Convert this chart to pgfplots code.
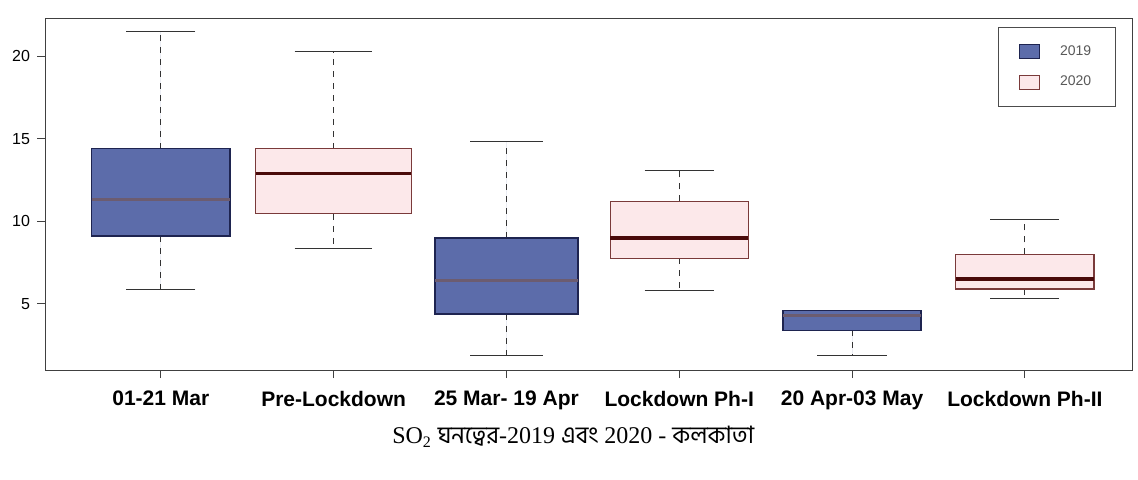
\documentclass[border=0pt]{standalone}
\usepackage{fontspec}
\setmainfont{Liberation Serif}
\setsansfont{Liberation Sans}
\newfontfamily\bn[Script=Bengali]{Hind Siliguri}
\usepackage{pgfplots}
\pgfplotsset{compat=1.18}
\usepgfplotslibrary{statistics}
\definecolor{bluefill}{RGB}{92,108,170}
\definecolor{bluedraw}{RGB}{30,36,80}
\definecolor{bluemed}{RGB}{108,92,112}
\definecolor{pinkfill}{RGB}{252,232,234}
\definecolor{pinkdraw}{RGB}{122,58,58}
\definecolor{pinkmed}{RGB}{74,10,10}
\pgfplotsset{
  boxplot/draw/whisker/.code 2 args={
    \draw[/pgfplots/boxplot/every whisker/.try, dashed] (boxplot cs:#1) -- (boxplot cs:#2);
    \draw[/pgfplots/boxplot/every whisker/.try, solid] (boxplot whisker cs:#2,0) -- (boxplot whisker cs:#2,1);
  },
  blue box/.style={draw=bluedraw, fill=bluefill, line width=0.8pt,
    boxplot/every median/.style={draw=bluemed, line width=1.3pt},
    boxplot/every whisker/.style={draw=black!80, line width=0.5pt}},
  pink box/.style={draw=pinkdraw, fill=pinkfill, line width=0.6pt,
    boxplot/every median/.style={draw=pinkmed, line width=1.8pt},
    boxplot/every whisker/.style={draw=black!80, line width=0.5pt}},
}
\begin{document}
\begin{tikzpicture}
\begin{axis}[
  scale only axis,
  width=543.5pt, height=176pt,
  xmin=0.33, xmax=6.62,
  ymin=1.0, ymax=22.3,
  boxplot/draw direction=y,
  axis line style={draw=black!75, line width=0.5pt},
  clip=false,
  xtick={1,2,3,4,5,6},
  xticklabels={01-21 Mar, Pre-Lockdown, 25 Mar- 19 Apr, Lockdown Ph-I, 20 Apr-03 May, Lockdown Ph-II},
  ytick={5,10,15,20},
  xtick pos=left, ytick pos=left,
  tick align=outside,
  major tick length=4pt,
  tick style={draw=black!75, line width=0.5pt},
  /pgf/number format/assume math mode=true,
  xticklabel style={font=\sffamily\bfseries\fontsize{10.5}{12}\selectfont, yshift=-3pt},
  yticklabel style={font=\sffamily\fontsize{8}{9}\selectfont},
  legend style={at={(0.985,0.975)}, anchor=north east, draw=black!70, line width=0.5pt,
    font=\sffamily\fontsize{7}{8}\selectfont, text=black!65,
    inner xsep=10pt, inner ysep=7pt, row sep=5pt,
    /tikz/every even column/.append style={column sep=0pt}},
  legend cell align=left,
]
% 2019 (blue) and 2020 (pink)
\addplot+[forget plot, blue box, mark=none, boxplot prepared={draw position=1, lower whisker=5.9, lower quartile=9.1, median=11.3, upper quartile=14.4, upper whisker=21.5, box extend=0.8, whisker extend=0.4}] coordinates {};
\addplot+[forget plot, pink box, mark=none, boxplot prepared={draw position=2, lower whisker=8.35, lower quartile=10.45, median=12.9, upper quartile=14.4, upper whisker=20.3, box extend=0.9, whisker extend=0.45}] coordinates {};
\addplot+[forget plot, blue box, mark=none, boxplot prepared={draw position=3, lower whisker=1.9, lower quartile=4.4, median=6.4, upper quartile=9.0, upper whisker=14.8, box extend=0.83, whisker extend=0.42}] coordinates {};
\addplot+[forget plot, pink box, mark=none, boxplot prepared={draw position=4, lower whisker=5.8, lower quartile=7.75, median=9.0, upper quartile=11.2, upper whisker=13.1, box extend=0.8, whisker extend=0.4}] coordinates {};
\addplot+[forget plot, blue box, mark=none, boxplot prepared={draw position=5, lower whisker=1.9, lower quartile=3.4, median=4.3, upper quartile=4.6, upper whisker=4.6, box extend=0.8, whisker extend=0.4}] coordinates {};
\addplot+[forget plot, pink box, mark=none, boxplot prepared={draw position=6, lower whisker=5.3, lower quartile=5.9, median=6.5, upper quartile=8.0, upper whisker=10.1, box extend=0.8, whisker extend=0.4}] coordinates {};
\addlegendimage{legend image code/.code={\draw[fill=bluefill, draw=bluedraw, line width=0.6pt] (0pt,-3.5pt) rectangle (10pt,3.5pt);}}
\addlegendentry{\hspace{8pt}2019}
\addlegendimage{legend image code/.code={\draw[fill=pinkfill, draw=pinkdraw, line width=0.6pt] (0pt,-3.5pt) rectangle (10pt,3.5pt);}}
\addlegendentry{\hspace{8pt}2020}
\node[font=\fontsize{12}{14}\selectfont, anchor=center] at (rel axis cs:0.486,0) [yshift=-33.5pt]
  {SO\textsubscript{2} {\bn ঘনত্বের}-2019 {\bn এবং} 2020 - {\bn কলকাতা}};
\end{axis}
\pgfresetboundingbox
\useasboundingbox (-22.5pt,-54.5pt) rectangle (546.5pt,185pt);
\end{tikzpicture}
\end{document}
